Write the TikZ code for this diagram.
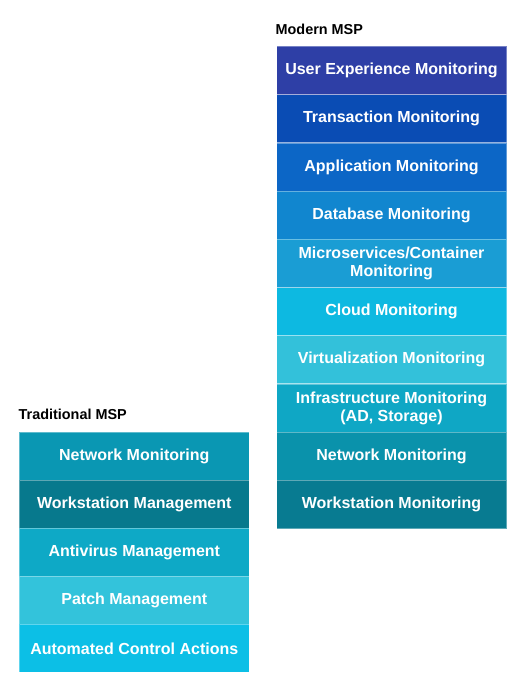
\documentclass[tikz,border=0pt]{standalone}
\usepackage{fontspec}
\setmainfont{Liberation Sans}
\definecolor{cUX}{HTML}{2E3FA6}
\definecolor{cTR}{HTML}{0A4CB4}
\definecolor{cAP}{HTML}{0C66C6}
\definecolor{cDB}{HTML}{1186CF}
\definecolor{cMS}{HTML}{1A9DD4}
\definecolor{cCL}{HTML}{0DB9E1}
\definecolor{cVI}{HTML}{33C1DA}
\definecolor{cIN}{HTML}{0FA7C5}
\definecolor{cNW}{HTML}{0A92AB}
\definecolor{cWS}{HTML}{087B91}
\definecolor{cLNW}{HTML}{0A97B3}
\definecolor{cLWS}{HTML}{07798D}
\definecolor{cLAV}{HTML}{0EA9C6}
\definecolor{cLPM}{HTML}{33C3DB}
\definecolor{cLAC}{HTML}{0CBFE6}
\begin{document}
\begin{tikzpicture}[x=1pt,y=-1pt,
  box/.style={rectangle, minimum width=230pt, minimum height=48.2pt, inner sep=0pt,
    draw=white, draw opacity=0.35, line width=1.2pt, text=white, align=center,
    font=\bfseries\fontsize{16}{18}\selectfont},
  lbox/.style={box, minimum height=48pt},
  title/.style={anchor=west, inner sep=0pt, font=\bfseries\fontsize{14.4}{16}\selectfont}]
\useasboundingbox (0,0) rectangle (528,685);
\node[title] (tm) at (275.5,29) {Modern MSP};
\node[box, fill=cUX] (ux) at (391.5,70.6) {User Experience Monitoring};
\node[box, fill=cTR] (tr) at (391.5,118.8) {Transaction Monitoring};
\node[box, fill=cAP] (ap) at (391.5,167.0) {Application Monitoring};
\node[box, fill=cDB] (db) at (391.5,215.2) {Database Monitoring};
\node[box, fill=cMS] (ms) at (391.5,263.4) {Microservices/Container\\Monitoring};
\node[box, fill=cCL] (cl) at (391.5,311.6) {Cloud Monitoring};
\node[box, fill=cVI] (vi) at (391.5,359.8) {Virtualization Monitoring};
\node[box, fill=cIN] (in) at (391.5,408.0) {Infrastructure Monitoring\\(AD, Storage)};
\node[box, fill=cNW] (nw) at (391.5,456.2) {Network Monitoring};
\node[box, fill=cWS] (ws) at (391.5,504.4) {Workstation Monitoring};
\node[title] (tt) at (18.5,414) {Traditional MSP};
\node[lbox, fill=cLNW] (lnw) at (134.3,456.3) {Network Monitoring};
\node[lbox, fill=cLWS] (lws) at (134.3,504.3) {Workstation Management};
\node[lbox, fill=cLAV] (lav) at (134.3,552.3) {Antivirus Management};
\node[lbox, fill=cLPM] (lpm) at (134.3,600.3) {Patch Management};
\node[lbox, fill=cLAC] (lac) at (134.3,648.3) {Automated Control Actions};
\end{tikzpicture}
\end{document}
